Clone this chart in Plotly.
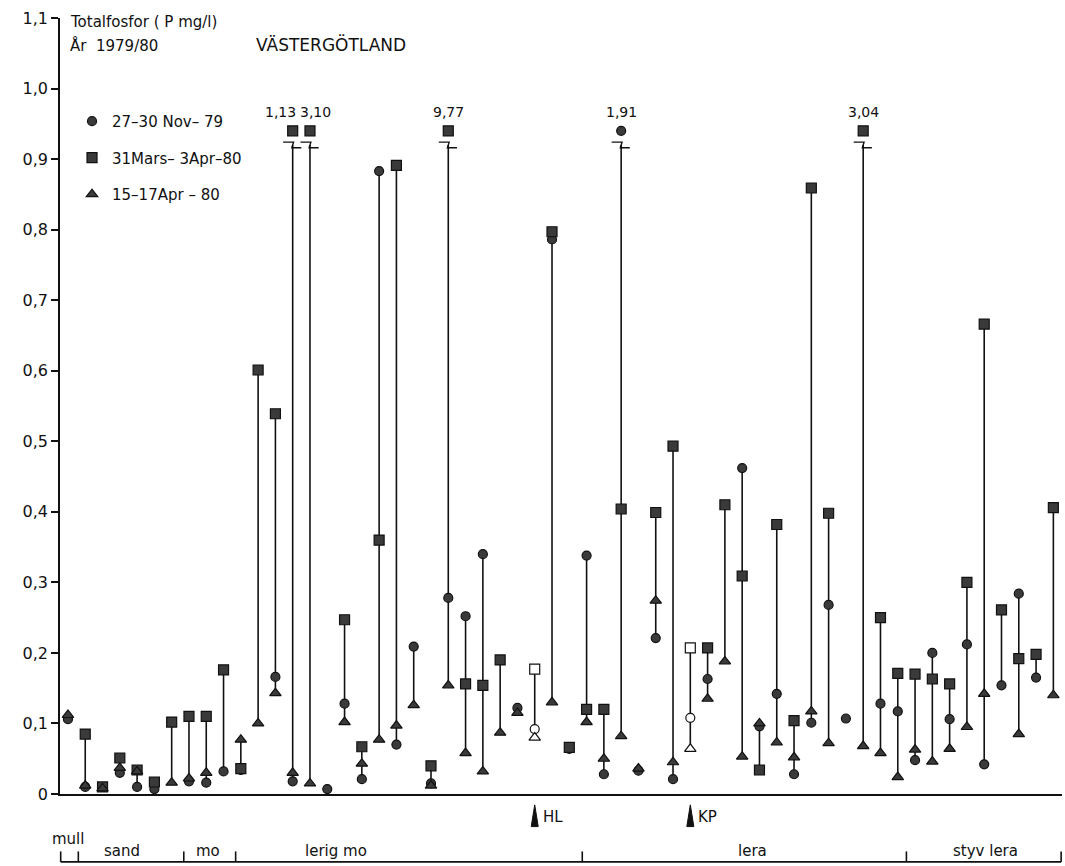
import plotly.graph_objects as go

# ---------------- data ----------------
stations = list(range(1, 59))

nov79 = [0.106, 0.010, None, 0.030, 0.010, 0.007, None, 0.018, 0.016, 0.032,
         0.034, None, 0.166, 0.018, None, 0.007, 0.128, 0.021, 0.883, 0.070,
         0.209, 0.015, 0.278, 0.252, 0.340, None, 0.122, 0.092, 0.786, 0.064,
         0.338, 0.028, 1.91, 0.033, 0.221, 0.021, 0.108, 0.163, None, 0.462,
         0.096, 0.142, 0.028, 0.101, 0.268, 0.107, None, 0.128, 0.117, 0.048,
         0.200, 0.106, 0.212, 0.042, 0.154, 0.284, 0.165, None]

mars80 = [None, 0.085, 0.010, 0.051, 0.034, 0.017, 0.102, 0.110, 0.110, 0.176,
          0.036, 0.601, 0.539, 1.13, 3.10, None, 0.247, 0.067, 0.360, 0.891,
          None, 0.040, 9.77, 0.156, 0.154, 0.190, None, 0.177, 0.797, 0.066,
          0.120, 0.120, 0.404, None, 0.399, 0.493, 0.207, 0.207, 0.410, 0.309,
          0.034, 0.382, 0.104, 0.859, 0.398, None, 3.04, 0.250, 0.171, 0.170,
          0.163, 0.156, 0.300, 0.666, 0.261, 0.192, 0.198, 0.406]

apr80 = [0.112, 0.012, 0.008, 0.037, 0.032, None, 0.016, 0.022, 0.030, None,
         0.077, 0.100, 0.143, 0.030, 0.015, None, 0.102, 0.043, 0.077, 0.097,
         0.126, 0.012, 0.154, 0.058, 0.032, 0.087, 0.115, 0.080, 0.130, None,
         0.102, 0.050, 0.082, 0.036, 0.274, 0.045, 0.064, 0.135, 0.188, 0.053,
         0.100, 0.073, 0.052, 0.117, 0.072, None, 0.068, 0.058, 0.024, 0.063,
         0.046, 0.064, 0.095, 0.142, None, 0.085, None, 0.140]

series_names = ["27\u201330 Nov\u2013 79", "31Mars\u2013 3Apr\u201380", "15\u201317Apr \u2013 80"]
series_symbols = ["circle", "square", "triangle-up"]
series_sizes = [9, 10, 10]

reference_sites = {"HL": 28, "KP": 37}   # open symbols

soil_labels = ["mull", "sand", "mo", "lerig mo", "lera", "styv lera"]
soil_bounds = [0.58, 1.6, 7.7, 10.7, 30.75, 49.5, 58.45]
soil_label_pos = [1.0, 4.1, 9.1, 16.5, 40.6, 54.1]

y_tickvals = [0.0, 0.1, 0.2, 0.3, 0.4, 0.5, 0.6, 0.7, 0.8, 0.9, 1.0, 1.1]
y_ticktext = ["0", "0,1", "0,2", "0,3", "0,4", "0,5", "0,6", "0,7", "0,8", "0,9", "1,0", "1,1"]

BREAK = 0.94          # level where off-scale values are drawn
X_RANGE = [0.54, 58.5]
Y_RANGE = [0.0, 1.1]

FONT = "DejaVu Sans"
INK = "#111111"
FILL = "#3a3a3a"

def fmt(v):
    return f"{v:.2f}".replace(".", ",")

def xpaper(s):
    return (s - X_RANGE[0]) / (X_RANGE[1] - X_RANGE[0])

fig = go.Figure()

# ---------------- vertical range lines ----------------
lx, ly = [], []
zx, zy = [], []
broken = []
for i, s in enumerate(stations):
    vals = [v for v in (nov79[i], mars80[i], apr80[i]) if v is not None]
    if len(vals) < 2:
        continue
    disp = [min(v, BREAK) for v in vals]
    lo, hi = min(disp), max(disp)
    if max(vals) > BREAK:
        hi = BREAK - 0.02
        zx += [s - 0.55, s + 0.05, s - 0.05, s + 0.5, None]
        zy += [hi + 0.004, hi + 0.004, hi - 0.004, hi - 0.004, None]
    lx += [s, s, None]
    ly += [lo, hi, None]

fig.add_trace(go.Scatter(x=lx, y=ly, mode="lines", line=dict(color=INK, width=1.6),
                         showlegend=False, hoverinfo="skip", cliponaxis=False))
fig.add_trace(go.Scatter(x=zx, y=zy, mode="lines", line=dict(color=INK, width=1.4),
                         showlegend=False, hoverinfo="skip", cliponaxis=False))

# ---------------- markers ----------------
open_set = set(reference_sites.values())
for name, sym, size, data in zip(series_names, series_symbols, series_sizes, [nov79, mars80, apr80]):
    ys = [None if v is None else min(v, BREAK) for v in data]
    colors = ["white" if s in open_set else FILL for s in stations]
    fig.add_trace(go.Scatter(
        x=stations, y=ys, mode="markers", name=name, legendgroup=name,
        marker=dict(symbol=sym, size=size, color=colors, line=dict(color=INK, width=1.2)),
        cliponaxis=False))
    for s, v in zip(stations, data):
        if v is not None and v > BREAK:
            broken.append((s, v))

# labels for off-scale values
broken.sort()
for k, (s, v) in enumerate(broken):
    shift = 0
    if k + 1 < len(broken) and broken[k + 1][0] - s == 1:
        shift = -12
    if k > 0 and s - broken[k - 1][0] == 1:
        shift = 6
    fig.add_annotation(x=s, y=BREAK + 0.027, text=fmt(v), showarrow=False,
                       xshift=shift, font=dict(family=FONT, size=14, color=INK))

# ---------------- reference site markers (HL, KP) ----------------
for lab, s in reference_sites.items():
    xp = xpaper(s)
    w = 0.0035
    fig.add_shape(type="path", xref="paper", yref="paper",
                  path=f"M {xp - w},{-0.042} L {xp},{-0.014} L {xp + w},{-0.042} Z",
                  fillcolor=INK, line=dict(color=INK, width=1))
    fig.add_annotation(x=xp + 0.006, y=-0.029, xref="paper", yref="paper", text=lab,
                       showarrow=False, xanchor="left", yanchor="middle",
                       font=dict(family=FONT, size=15, color=INK))

# ---------------- soil class bracket ----------------
yb, yt = -0.0875, -0.074
fig.add_shape(type="line", xref="paper", yref="paper",
              x0=xpaper(soil_bounds[0]), x1=xpaper(soil_bounds[-1]), y0=yb, y1=yb,
              line=dict(color=INK, width=1.6))
for b in soil_bounds:
    fig.add_shape(type="line", xref="paper", yref="paper",
                  x0=xpaper(b), x1=xpaper(b), y0=yb, y1=yt,
                  line=dict(color=INK, width=1.6))
for k, (lab, px) in enumerate(zip(soil_labels, soil_label_pos)):
    fig.add_annotation(x=xpaper(px), y=(-0.058 if k == 0 else -0.073), xref="paper", yref="paper",
                       text=lab, showarrow=False, xanchor="center", yanchor="middle",
                       font=dict(family=FONT, size=15, color=INK))

# ---------------- titles ----------------
fig.add_annotation(x=0.008, y=0.995, xref="paper", yref="paper", text="Totalfosfor ( P mg/l)",
                   showarrow=False, xanchor="left", yanchor="middle",
                   font=dict(family=FONT, size=15, color=INK))
fig.add_annotation(x=0.008, y=0.964, xref="paper", yref="paper", text="\u00c5r  1979/80",
                   showarrow=False, xanchor="left", yanchor="middle",
                   font=dict(family=FONT, size=15, color=INK))
fig.add_annotation(x=0.27, y=0.966, xref="paper", yref="paper", text="V\u00c4STERG\u00d6TLAND",
                   showarrow=False, xanchor="center", yanchor="middle",
                   font=dict(family=FONT, size=17, color=INK))

fig.update_layout(
    width=1065, height=866,
    margin=dict(l=60, r=3, t=18, b=72),
    paper_bgcolor="white", plot_bgcolor="white",
    font=dict(family=FONT, size=15, color=INK),
    showlegend=True,
    legend=dict(x=0.012, y=0.888, xanchor="left", yanchor="top",
                bgcolor="rgba(0,0,0,0)", tracegroupgap=14, itemwidth=30,
                font=dict(family=FONT, size=15, color=INK)),
    xaxis=dict(range=X_RANGE, showgrid=False, zeroline=False, showticklabels=False,
               ticks="", showline=True, linecolor=INK, linewidth=1.6),
    yaxis=dict(range=Y_RANGE, showgrid=False, zeroline=False, showline=True,
               linecolor=INK, linewidth=1.6, ticks="outside", ticklen=7, tickwidth=1.5,
               tickcolor=INK, tickvals=y_tickvals, ticktext=y_ticktext,
               tickfont=dict(family=FONT, size=16, color=INK)),
)

fig.write_html("out.html")
